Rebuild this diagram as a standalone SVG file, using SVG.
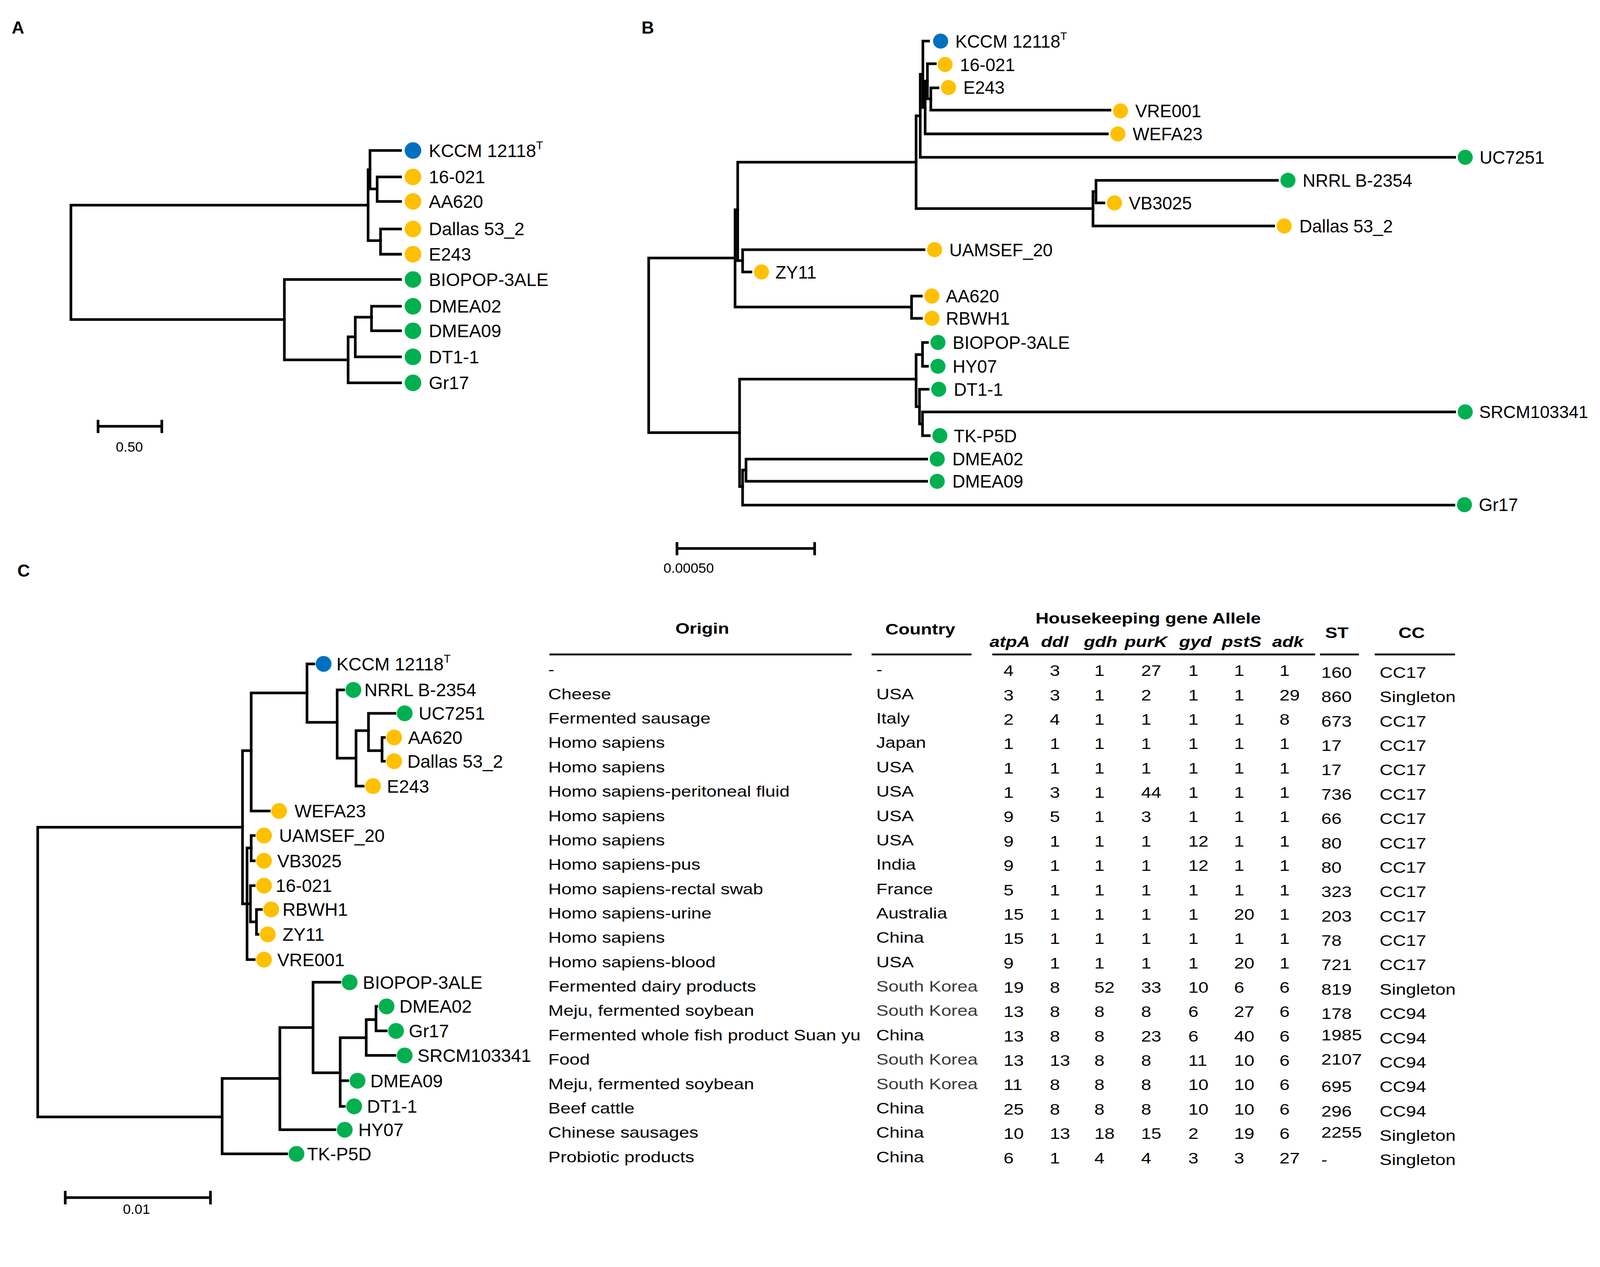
<svg xmlns="http://www.w3.org/2000/svg" width="4246" height="3243" viewBox="0 0 4246 3243">
<style>
text{font-family:"Liberation Sans",Arial,sans-serif;fill:#000}
.lab{font-size:48px}
.labB{font-size:47px}
.pl{font-size:46px;font-weight:bold}
.sc{font-size:37px;text-anchor:middle}
.br{fill:none;stroke:#000;stroke-width:7;stroke-linecap:square;stroke-linejoin:miter}
.bar{fill:none;stroke:#000;stroke-width:7}
.ul{stroke:#000;stroke-width:5}
.b{fill:#0070C0}.o{fill:#FFC000}.g{fill:#00B050}
.t{font-size:41px}
.h{font-size:41px;font-weight:bold;text-anchor:middle}
.gi{font-size:41px;font-weight:bold;font-style:italic;text-anchor:middle}
.sk{fill:#3a3a3a}
</style>
<rect width="4246" height="3243" fill="#fff"/>
<g id="figure" transform="scale(0.9655)">

<!-- Panel labels -->
<text class="pl" x="31" y="89">A</text>
<text class="pl" x="1701" y="89">B</text>
<text class="pl" x="46" y="1529">C</text>

<!-- ================= PANEL A ================= -->
<g id="connectorsA">
<path class="br" d="M976 544 H188 V847 H754"/>
<path class="br" d="M981 450 H976 V638 H1009"/>
<path class="br" d="M1062 399 H981 V501 H1000"/>
<path class="br" d="M1062 469 H1000 V534 H1062"/>
<path class="br" d="M1062 607 H1009 V674 H1062"/>
<path class="br" d="M1062 741 H754 V954 H923"/>
<path class="br" d="M942 893 H923 V1015 H1062"/>
<path class="br" d="M985 841 H942 V946 H1062"/>
<path class="br" d="M1062 812 H985 V877 H1062"/>
</g>
<g id="A-KCCM"><circle class="b" cx="1095" cy="399" r="22"/><text class="lab" x="1137" y="416">KCCM 12118<tspan dy="-20" font-size="30">T</tspan></text></g>
<g id="A-16021"><circle class="o" cx="1095" cy="469" r="22"/><text class="lab" x="1137" y="486">16-021</text></g>
<g id="A-AA620"><circle class="o" cx="1095" cy="534" r="22"/><text class="lab" x="1137" y="551">AA620</text></g>
<g id="A-Dallas"><circle class="o" cx="1095" cy="607" r="22"/><text class="lab" x="1137" y="624">Dallas 53_2</text></g>
<g id="A-E243"><circle class="o" cx="1095" cy="674" r="22"/><text class="lab" x="1137" y="691">E243</text></g>
<g id="A-BIOPOP"><circle class="g" cx="1095" cy="741" r="22"/><text class="lab" x="1137" y="758">BIOPOP-3ALE</text></g>
<g id="A-DMEA02"><circle class="g" cx="1095" cy="812" r="22"/><text class="lab" x="1137" y="829">DMEA02</text></g>
<g id="A-DMEA09"><circle class="g" cx="1095" cy="877" r="22"/><text class="lab" x="1137" y="894">DMEA09</text></g>
<g id="A-DT11"><circle class="g" cx="1095" cy="946" r="22"/><text class="lab" x="1137" y="963">DT1-1</text></g>
<g id="A-Gr17"><circle class="g" cx="1095" cy="1015" r="22"/><text class="lab" x="1137" y="1032">Gr17</text></g>
<g id="A-scale">
<path class="bar" d="M260 1130 H429 M260 1113 V1148 M429 1113 V1148"/>
<text class="sc" x="343" y="1197">0.50</text>
</g>

<!-- ================= PANEL B ================= -->
<g id="connectorsB">
<path class="br" d="M1949 684 H1720 V1147 H1961"/>
<path class="br" d="M1956 556 H1949 V814 H2417"/>
<path class="br" d="M2429 430 H1956 V691 H1969"/>
<path class="br" d="M2450 662 H1969 V721 H1991"/>
<path class="br" d="M2440 307 H2429 V553 H2898"/>
<path class="br" d="M2447 197 H2440 V417 H3857"/>
<path class="br" d="M2462 109 H2447 V285 H2453"/>
<path class="br" d="M2459 215 H2453 V355 H2936"/>
<path class="br" d="M2480 169 H2459 V262 H2468"/>
<path class="br" d="M2487 233 H2468 V292 H2943"/>
<path class="br" d="M2906 508 H2898 V599 H3377"/>
<path class="br" d="M3387 478 H2906 V538 H2927"/>
<path class="br" d="M2443 785 H2417 V844 H2443"/>
<path class="br" d="M2429 1005 H1961 V1290 H1969"/>
<path class="br" d="M2446 940 H2429 V1078 H2438"/>
<path class="br" d="M2459 908 H2446 V971 H2459"/>
<path class="br" d="M2461 1032 H2438 V1124 H2446"/>
<path class="br" d="M3857 1092 H2446 V1155 H2464"/>
<path class="br" d="M1978 1246 H1969 V1339 H3855"/>
<path class="br" d="M2457 1217 H1978 V1276 H2457"/>
</g>
<g id="B-KCCM"><circle class="b" cx="2494" cy="109" r="20"/><text class="labB" x="2533" y="126">KCCM 12118<tspan dy="-20" font-size="29">T</tspan></text></g>
<g id="B-16021"><circle class="o" cx="2506" cy="171" r="20"/><text class="labB" x="2545" y="188">16-021</text></g>
<g id="B-E243"><circle class="o" cx="2515" cy="232" r="20"/><text class="labB" x="2554" y="249">E243</text></g>
<g id="B-VRE001"><circle class="o" cx="2971" cy="294" r="20"/><text class="labB" x="3010" y="311">VRE001</text></g>
<g id="B-WEFA23"><circle class="o" cx="2964" cy="355" r="20"/><text class="labB" x="3003" y="372">WEFA23</text></g>
<g id="B-UC7251"><circle class="g" cx="3885" cy="417" r="20"/><text class="labB" x="3923" y="434">UC7251</text></g>
<g id="B-NRRL"><circle class="g" cx="3415" cy="478" r="20"/><text class="labB" x="3454" y="495">NRRL B-2354</text></g>
<g id="B-VB3025"><circle class="o" cx="2955" cy="538" r="20"/><text class="labB" x="2993" y="555">VB3025</text></g>
<g id="B-Dallas"><circle class="o" cx="3405" cy="599" r="20"/><text class="labB" x="3445" y="616">Dallas 53_2</text></g>
<g id="B-UAMSEF"><circle class="o" cx="2478" cy="662" r="20"/><text class="labB" x="2517" y="679">UAMSEF_20</text></g>
<g id="B-ZY11"><circle class="o" cx="2019" cy="721" r="20"/><text class="labB" x="2056" y="738">ZY11</text></g>
<g id="B-AA620"><circle class="o" cx="2471" cy="785" r="20"/><text class="labB" x="2508" y="802">AA620</text></g>
<g id="B-RBWH1"><circle class="o" cx="2471" cy="844" r="20"/><text class="labB" x="2508" y="861">RBWH1</text></g>
<g id="B-BIOPOP"><circle class="g" cx="2487" cy="908" r="20"/><text class="labB" x="2526" y="925">BIOPOP-3ALE</text></g>
<g id="B-HY07"><circle class="g" cx="2487" cy="971" r="20"/><text class="labB" x="2526" y="988">HY07</text></g>
<g id="B-DT11"><circle class="g" cx="2489" cy="1032" r="20"/><text class="labB" x="2529" y="1049">DT1-1</text></g>
<g id="B-SRCM"><circle class="g" cx="3885" cy="1092" r="20"/><text x="3922" y="1108" font-size="46">SRCM103341</text></g>
<g id="B-TKP5D"><circle class="g" cx="2492" cy="1155" r="20"/><text class="labB" x="2529" y="1172">TK-P5D</text></g>
<g id="B-DMEA02"><circle class="g" cx="2485" cy="1217" r="20"/><text class="labB" x="2525" y="1234">DMEA02</text></g>
<g id="B-DMEA09"><circle class="g" cx="2485" cy="1276" r="20"/><text class="labB" x="2525" y="1293">DMEA09</text></g>
<g id="B-Gr17"><circle class="g" cx="3883" cy="1338" r="20"/><text class="labB" x="3921" y="1355">Gr17</text></g>
<g id="B-scale">
<path class="bar" d="M1795 1454 H2160 M1795 1437 V1472 M2160 1437 V1472"/>
<text class="sc" x="1826" y="1518">0.00050</text>
</g>

<!-- ================= PANEL C ================= -->
<g id="connectorsC">
<path class="br" d="M643 2193 H100 V2961 H589"/>
<path class="br" d="M666 1990 H643 V2396 H655"/>
<path class="br" d="M814 1837 H666 V2150 H714"/>
<path class="br" d="M666 2248 H655 V2544 H674"/>
<path class="br" d="M674 2215 H666 V2282 H674"/>
<path class="br" d="M674 2348 H664 V2444 H680 M655 2396 H664"/>
<path class="br" d="M693 2411 H680 V2477 H684"/>
<path class="br" d="M832 1760 H814 V1915 H894"/>
<path class="br" d="M911 1829 H894 V2010 H944"/>
<path class="br" d="M977 1937 H944 V2084 H963"/>
<path class="br" d="M1047 1891 H977 V1990 H1013"/>
<path class="br" d="M1019 1955 H1013 V2018 H1019"/>
<path class="br" d="M742 2859 H589 V3059 H760"/>
<path class="br" d="M830 2724 H742 V2995 H888"/>
<path class="br" d="M901 2604 H830 V2844 H902"/>
<path class="br" d="M971 2751 H902 V2933 H913 M902 2865 H922"/>
<path class="br" d="M997 2703 H971 V2798 H1047"/>
<path class="br" d="M999 2668 H997 V2733 H1024"/>
</g>
<g id="C-KCCM"><circle class="b" cx="858" cy="1760" r="21"/><text class="lab" x="892" y="1777">KCCM 12118<tspan dy="-20" font-size="30">T</tspan></text></g>
<g id="C-NRRL"><circle class="g" cx="937" cy="1829" r="21"/><text class="lab" x="966" y="1846">NRRL B-2354</text></g>
<g id="C-UC7251"><circle class="g" cx="1073" cy="1891" r="21"/><text class="lab" x="1110" y="1908">UC7251</text></g>
<g id="C-AA620"><circle class="o" cx="1045" cy="1955" r="21"/><text class="lab" x="1082" y="1972">AA620</text></g>
<g id="C-Dallas"><circle class="o" cx="1045" cy="2018" r="21"/><text class="lab" x="1080" y="2035">Dallas 53_2</text></g>
<g id="C-E243"><circle class="o" cx="989" cy="2084" r="21"/><text class="lab" x="1026" y="2101">E243</text></g>
<g id="C-WEFA23"><circle class="o" cx="740" cy="2150" r="21"/><text class="lab" x="781" y="2167">WEFA23</text></g>
<g id="C-UAMSEF"><circle class="o" cx="700" cy="2215" r="21"/><text class="lab" x="740" y="2232">UAMSEF_20</text></g>
<g id="C-VB3025"><circle class="o" cx="700" cy="2282" r="21"/><text class="lab" x="735" y="2299">VB3025</text></g>
<g id="C-16021"><circle class="o" cx="700" cy="2348" r="21"/><text class="lab" x="731" y="2365">16-021</text></g>
<g id="C-RBWH1"><circle class="o" cx="719" cy="2411" r="21"/><text class="lab" x="749" y="2428">RBWH1</text></g>
<g id="C-ZY11"><circle class="o" cx="710" cy="2477" r="21"/><text class="lab" x="749" y="2494">ZY11</text></g>
<g id="C-VRE001"><circle class="o" cx="700" cy="2544" r="21"/><text class="lab" x="735" y="2561">VRE001</text></g>
<g id="C-BIOPOP"><circle class="g" cx="927" cy="2604" r="21"/><text class="lab" x="962" y="2621">BIOPOP-3ALE</text></g>
<g id="C-DMEA02"><circle class="g" cx="1025" cy="2668" r="21"/><text class="lab" x="1059" y="2685">DMEA02</text></g>
<g id="C-Gr17"><circle class="g" cx="1050" cy="2733" r="21"/><text class="lab" x="1084" y="2750">Gr17</text></g>
<g id="C-SRCM"><circle class="g" cx="1073" cy="2798" r="21"/><text class="lab" x="1107" y="2815">SRCM103341</text></g>
<g id="C-DMEA09"><circle class="g" cx="948" cy="2865" r="21"/><text class="lab" x="982" y="2882">DMEA09</text></g>
<g id="C-DT11"><circle class="g" cx="939" cy="2933" r="21"/><text class="lab" x="973" y="2950">DT1-1</text></g>
<g id="C-HY07"><circle class="g" cx="914" cy="2995" r="21"/><text class="lab" x="950" y="3012">HY07</text></g>
<g id="C-TKP5D"><circle class="g" cx="786" cy="3059" r="21"/><text class="lab" x="814" y="3076">TK-P5D</text></g>
<g id="C-scale">
<path class="bar" d="M173 3175 H558 M173 3157 V3193 M558 3157 V3193"/>
<text class="sc" x="362" y="3218">0.01</text>
</g>

<!-- ================= TABLE ================= -->
<g id="table" transform="scale(1.18 1)">
<text class="h" x="1578" y="1680">Origin</text>
<text class="h" x="2068" y="1682">Country</text>
<text class="h" x="2580" y="1653">Housekeeping gene Allele</text>
<text class="gi" x="2269" y="1715">atpA</text>
<text class="gi" x="2370" y="1715">ddl</text>
<text class="gi" x="2473" y="1715">gdh</text>
<text class="gi" x="2575" y="1715">purK</text>
<text class="gi" x="2686" y="1715">gyd</text>
<text class="gi" x="2790" y="1715">pstS</text>
<text class="gi" x="2894" y="1715">adk</text>
<text class="h" x="3004" y="1691">ST</text>
<text class="h" x="3172" y="1691">CC</text>
<path class="ul" d="M1234.7 1735 H1913.6 M1958.5 1735 H2183 M2229.7 1735 H2955.1 M2966.1 1735 H3053.4 M3089 1735 H3269.5"/>

<g id="col-origin">
<text class="t" x="1232" y="1789">-</text>
<text class="t" x="1232" y="1853.6">Cheese</text>
<text class="t" x="1232" y="1918.2">Fermented sausage</text>
<text class="t" x="1232" y="1982.8">Homo sapiens</text>
<text class="t" x="1232" y="2047.4">Homo sapiens</text>
<text class="t" x="1232" y="2112">Homo sapiens-peritoneal fluid</text>
<text class="t" x="1232" y="2176.6">Homo sapiens</text>
<text class="t" x="1232" y="2241.2">Homo sapiens</text>
<text class="t" x="1232" y="2305.8">Homo sapiens-pus</text>
<text class="t" x="1232" y="2370.4">Homo sapiens-rectal swab</text>
<text class="t" x="1232" y="2435">Homo sapiens-urine</text>
<text class="t" x="1232" y="2499.6">Homo sapiens</text>
<text class="t" x="1232" y="2564.2">Homo sapiens-blood</text>
<text class="t" x="1232" y="2628.8">Fermented dairy products</text>
<text class="t" x="1232" y="2693.4">Meju, fermented soybean</text>
<text class="t" x="1232" y="2758">Fermented whole fish product Suan yu</text>
<text class="t" x="1232" y="2822.6">Food</text>
<text class="t" x="1232" y="2887.2">Meju, fermented soybean</text>
<text class="t" x="1232" y="2951.8">Beef cattle</text>
<text class="t" x="1232" y="3016.4">Chinese sausages</text>
<text class="t" x="1232" y="3081">Probiotic products</text>
</g>
<g id="col-country">
<text class="t" x="1969" y="1789">-</text>
<text class="t" x="1969" y="1853.6">USA</text>
<text class="t" x="1969" y="1918.2">Italy</text>
<text class="t" x="1969" y="1982.8">Japan</text>
<text class="t" x="1969" y="2047.4">USA</text>
<text class="t" x="1969" y="2112">USA</text>
<text class="t" x="1969" y="2176.6">USA</text>
<text class="t" x="1969" y="2241.2">USA</text>
<text class="t" x="1969" y="2305.8">India</text>
<text class="t" x="1969" y="2370.4">France</text>
<text class="t" x="1969" y="2435">Australia</text>
<text class="t" x="1969" y="2499.6">China</text>
<text class="t" x="1969" y="2564.2">USA</text>
<text class="t sk" x="1969" y="2628.8">South Korea</text>
<text class="t sk" x="1969" y="2693.4">South Korea</text>
<text class="t" x="1969" y="2758">China</text>
<text class="t sk" x="1969" y="2822.6">South Korea</text>
<text class="t sk" x="1969" y="2887.2">South Korea</text>
<text class="t" x="1969" y="2951.8">China</text>
<text class="t" x="1969" y="3016.4">China</text>
<text class="t" x="1969" y="3081">China</text>
</g>
<g id="col-alleles">
<text class="t" y="1792"><tspan x="2255">4</tspan><tspan x="2359">3</tspan><tspan x="2459">1</tspan><tspan x="2564">27</tspan><tspan x="2670">1</tspan><tspan x="2773">1</tspan><tspan x="2875">1</tspan></text>
<text class="t" y="1856.6"><tspan x="2255">3</tspan><tspan x="2359">3</tspan><tspan x="2459">1</tspan><tspan x="2564">2</tspan><tspan x="2670">1</tspan><tspan x="2773">1</tspan><tspan x="2875">29</tspan></text>
<text class="t" y="1921.2"><tspan x="2255">2</tspan><tspan x="2359">4</tspan><tspan x="2459">1</tspan><tspan x="2564">1</tspan><tspan x="2670">1</tspan><tspan x="2773">1</tspan><tspan x="2875">8</tspan></text>
<text class="t" y="1985.8"><tspan x="2255">1</tspan><tspan x="2359">1</tspan><tspan x="2459">1</tspan><tspan x="2564">1</tspan><tspan x="2670">1</tspan><tspan x="2773">1</tspan><tspan x="2875">1</tspan></text>
<text class="t" y="2050.4"><tspan x="2255">1</tspan><tspan x="2359">1</tspan><tspan x="2459">1</tspan><tspan x="2564">1</tspan><tspan x="2670">1</tspan><tspan x="2773">1</tspan><tspan x="2875">1</tspan></text>
<text class="t" y="2115"><tspan x="2255">1</tspan><tspan x="2359">3</tspan><tspan x="2459">1</tspan><tspan x="2564">44</tspan><tspan x="2670">1</tspan><tspan x="2773">1</tspan><tspan x="2875">1</tspan></text>
<text class="t" y="2179.6"><tspan x="2255">9</tspan><tspan x="2359">5</tspan><tspan x="2459">1</tspan><tspan x="2564">3</tspan><tspan x="2670">1</tspan><tspan x="2773">1</tspan><tspan x="2875">1</tspan></text>
<text class="t" y="2244.2"><tspan x="2255">9</tspan><tspan x="2359">1</tspan><tspan x="2459">1</tspan><tspan x="2564">1</tspan><tspan x="2670">12</tspan><tspan x="2773">1</tspan><tspan x="2875">1</tspan></text>
<text class="t" y="2308.8"><tspan x="2255">9</tspan><tspan x="2359">1</tspan><tspan x="2459">1</tspan><tspan x="2564">1</tspan><tspan x="2670">12</tspan><tspan x="2773">1</tspan><tspan x="2875">1</tspan></text>
<text class="t" y="2373.4"><tspan x="2255">5</tspan><tspan x="2359">1</tspan><tspan x="2459">1</tspan><tspan x="2564">1</tspan><tspan x="2670">1</tspan><tspan x="2773">1</tspan><tspan x="2875">1</tspan></text>
<text class="t" y="2438"><tspan x="2255">15</tspan><tspan x="2359">1</tspan><tspan x="2459">1</tspan><tspan x="2564">1</tspan><tspan x="2670">1</tspan><tspan x="2773">20</tspan><tspan x="2875">1</tspan></text>
<text class="t" y="2502.6"><tspan x="2255">15</tspan><tspan x="2359">1</tspan><tspan x="2459">1</tspan><tspan x="2564">1</tspan><tspan x="2670">1</tspan><tspan x="2773">1</tspan><tspan x="2875">1</tspan></text>
<text class="t" y="2567.2"><tspan x="2255">9</tspan><tspan x="2359">1</tspan><tspan x="2459">1</tspan><tspan x="2564">1</tspan><tspan x="2670">1</tspan><tspan x="2773">20</tspan><tspan x="2875">1</tspan></text>
<text class="t" y="2631.8"><tspan x="2255">19</tspan><tspan x="2359">8</tspan><tspan x="2459">52</tspan><tspan x="2564">33</tspan><tspan x="2670">10</tspan><tspan x="2773">6</tspan><tspan x="2875">6</tspan></text>
<text class="t" y="2696.4"><tspan x="2255">13</tspan><tspan x="2359">8</tspan><tspan x="2459">8</tspan><tspan x="2564">8</tspan><tspan x="2670">6</tspan><tspan x="2773">27</tspan><tspan x="2875">6</tspan></text>
<text class="t" y="2761"><tspan x="2255">13</tspan><tspan x="2359">8</tspan><tspan x="2459">8</tspan><tspan x="2564">23</tspan><tspan x="2670">6</tspan><tspan x="2773">40</tspan><tspan x="2875">6</tspan></text>
<text class="t" y="2825.6"><tspan x="2255">13</tspan><tspan x="2359">13</tspan><tspan x="2459">8</tspan><tspan x="2564">8</tspan><tspan x="2670">11</tspan><tspan x="2773">10</tspan><tspan x="2875">6</tspan></text>
<text class="t" y="2890.2"><tspan x="2255">11</tspan><tspan x="2359">8</tspan><tspan x="2459">8</tspan><tspan x="2564">8</tspan><tspan x="2670">10</tspan><tspan x="2773">10</tspan><tspan x="2875">6</tspan></text>
<text class="t" y="2954.8"><tspan x="2255">25</tspan><tspan x="2359">8</tspan><tspan x="2459">8</tspan><tspan x="2564">8</tspan><tspan x="2670">10</tspan><tspan x="2773">10</tspan><tspan x="2875">6</tspan></text>
<text class="t" y="3019.4"><tspan x="2255">10</tspan><tspan x="2359">13</tspan><tspan x="2459">18</tspan><tspan x="2564">15</tspan><tspan x="2670">2</tspan><tspan x="2773">19</tspan><tspan x="2875">6</tspan></text>
<text class="t" y="3084"><tspan x="2255">6</tspan><tspan x="2359">1</tspan><tspan x="2459">4</tspan><tspan x="2564">4</tspan><tspan x="2670">3</tspan><tspan x="2773">3</tspan><tspan x="2875">27</tspan></text>
</g>
<g id="col-st-cc">
<text class="t" y="1797"><tspan x="2969">160</tspan><tspan x="3100">CC17</tspan></text>
<text class="t" y="1861.6"><tspan x="2969">860</tspan><tspan x="3100">Singleton</tspan></text>
<text class="t" y="1926.2"><tspan x="2969">673</tspan><tspan x="3100">CC17</tspan></text>
<text class="t" y="1990.8"><tspan x="2969">17</tspan><tspan x="3100">CC17</tspan></text>
<text class="t" y="2055.4"><tspan x="2969">17</tspan><tspan x="3100">CC17</tspan></text>
<text class="t" y="2120"><tspan x="2969">736</tspan><tspan x="3100">CC17</tspan></text>
<text class="t" y="2184.6"><tspan x="2969">66</tspan><tspan x="3100">CC17</tspan></text>
<text class="t" y="2249.2"><tspan x="2969">80</tspan><tspan x="3100">CC17</tspan></text>
<text class="t" y="2313.8"><tspan x="2969">80</tspan><tspan x="3100">CC17</tspan></text>
<text class="t" y="2378.4"><tspan x="2969">323</tspan><tspan x="3100">CC17</tspan></text>
<text class="t" y="2443"><tspan x="2969">203</tspan><tspan x="3100">CC17</tspan></text>
<text class="t" y="2507.6"><tspan x="2969">78</tspan><tspan x="3100">CC17</tspan></text>
<text class="t" y="2572.2"><tspan x="2969">721</tspan><tspan x="3100">CC17</tspan></text>
<text class="t" y="2636.8"><tspan x="2969">819</tspan><tspan x="3100">Singleton</tspan></text>
<text class="t" y="2701.4"><tspan x="2969">178</tspan><tspan x="3100">CC94</tspan></text>
<text class="t" y="2766"><tspan x="2969" dy="-8">1985</tspan><tspan x="3100" dy="8">CC94</tspan></text>
<text class="t" y="2830.6"><tspan x="2969" dy="-8">2107</tspan><tspan x="3100" dy="8">CC94</tspan></text>
<text class="t" y="2895.2"><tspan x="2969">695</tspan><tspan x="3100">CC94</tspan></text>
<text class="t" y="2959.8"><tspan x="2969">296</tspan><tspan x="3100">CC94</tspan></text>
<text class="t" y="3024.4"><tspan x="2969" dy="-8">2255</tspan><tspan x="3100" dy="8">Singleton</tspan></text>
<text class="t" y="3089"><tspan x="2969">-</tspan><tspan x="3100">Singleton</tspan></text>
</g>
</g>
</g>
</svg>
